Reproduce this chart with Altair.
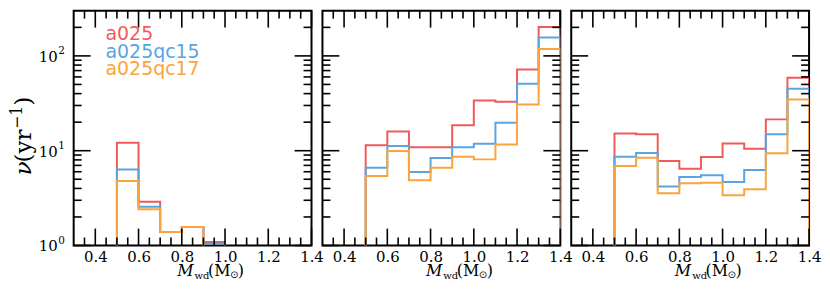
import altair as alt
import pandas as pd

# ---------------- data ----------------
edges = [0.5, 0.6, 0.7, 0.8, 0.9, 1.0, 1.1, 1.2, 1.3, 1.4]
series = ["a025", "a025qc15", "a025qc17"]
colors = ["#f25a5a", "#5aa5e0", "#fba43c"]

p1_a025 = [12.1, 2.9, 1.39, 1.57, 1.09, 0, 0, 0, 0]
p1_qc15 = [6.35, 2.57, 1.39, 1.57, 1.05, 0, 0, 0, 0]
p1_qc17 = [4.8, 2.41, 1.39, 1.57, 0, 0, 0, 0, 0]

p2_a025 = [11.4, 15.9, 10.9, 10.9, 18.6, 33.8, 32.8, 71.8, 202]
p2_qc15 = [6.6, 11.2, 5.97, 8.4, 10.9, 11.85, 19.7, 50.7, 156]
p2_qc17 = [5.41, 9.93, 4.87, 6.6, 8.65, 8.1, 11.65, 30.7, 118.5]

p3_a025 = [15.2, 14.9, 7.8, 6.47, 8.58, 11.9, 10.5, 21.4, 58.7]
p3_qc15 = [8.65, 9.46, 4.18, 5.29, 5.5, 4.68, 6.26, 14.9, 45]
p3_qc17 = [6.9, 8.44, 3.56, 4.53, 4.6, 3.39, 3.92, 9.38, 34.7]

panels = [
    [p1_a025, p1_qc15, p1_qc17],
    [p2_a025, p2_qc15, p2_qc17],
    [p3_a025, p3_qc15, p3_qc17],
]

x_major = [0.4, 0.6, 0.8, 1.0, 1.2, 1.4]
x_minor = [0.35, 0.45, 0.5, 0.55, 0.65, 0.7, 0.75, 0.85, 0.9, 0.95,
           1.05, 1.1, 1.15, 1.25, 1.3, 1.35]
y_major = [1, 10, 100]
y_minor = [2, 3, 4, 5, 6, 7, 8, 9, 20, 30, 40, 50, 60, 70, 80, 90, 200]
y_label_base = ["10", "10", "10"]
y_label_exp = ["0", "1", "2"]

# ---------------- layout ----------------
W, H = 239, 236
MAJ, MIN = 17, 8
FLOOR = 0.3  # below the log domain: zero-count bins drop off the bottom
SERIF = "DejaVu Serif"

xs = alt.Scale(domain=[0.3, 1.4], nice=False, zero=False)
ys = alt.Scale(type="log", domain=[1, 300], nice=False)

xaxis = alt.Axis(values=x_major, format=".1f", ticks=False, domain=False,
                 grid=False, title=None, labelPadding=4, labelFlush=False,
                 labelOverlap=False, labelBound=False, labelFont=SERIF,
                 labelFontSize=15, labelColor="black")
yaxis = alt.Axis(values=y_major, labels=False, ticks=False, domain=False,
                 grid=False, title=None)


def step_frame(vals):
    rows = [{"x": edges[0], "y": FLOOR, "o": 0}]
    k = 1
    for i, v in enumerate(vals):
        vv = v if v > 0 else FLOOR
        rows.append({"x": edges[i], "y": vv, "o": k}); k += 1
        rows.append({"x": edges[i + 1], "y": vv, "o": k}); k += 1
    rows.append({"x": edges[-1], "y": FLOOR, "o": k})
    return pd.DataFrame(rows)


one = alt.Data(values=[{}])


def text(t, x, y, size, font=SERIF, style="normal", color="black",
         angle=0):
    return alt.Chart(one).mark_text(
        align="left", baseline="alphabetic", font=font, fontSize=size,
        fontStyle=style, color=color, angle=angle
    ).encode(x=alt.value(x), y=alt.value(y), text=alt.value(t))


def panel(idx):
    show_y = idx == 0
    layers = []
    for vals, col in zip(panels[idx], colors):
        layers.append(
            alt.Chart(step_frame(vals)).mark_line(
                clip=True, strokeWidth=2, color=col, strokeJoin="miter",
                strokeCap="butt"
            ).encode(
                x=alt.X("x:Q", scale=xs, axis=xaxis),
                y=alt.Y("y:Q", scale=ys, axis=yaxis),
                order="o:Q",
            )
        )
    # inward ticks on all four sides
    dxM = pd.DataFrame({"x": x_major})
    dxm = pd.DataFrame({"x": x_minor})
    dyM = pd.DataFrame({"y": y_major})
    dym = pd.DataFrame({"y": y_minor})
    for d, L in ((dxM, MAJ), (dxm, MIN)):
        for y0, y1 in ((H, H - L), (0, L)):
            layers.append(
                alt.Chart(d).mark_rule(color="black", strokeWidth=1.6).encode(
                    x=alt.X("x:Q", scale=xs, axis=xaxis),
                    y=alt.value(y0), y2=alt.value(y1))
            )
    for d, L in ((dyM, MAJ), (dym, MIN)):
        for x0, x1 in ((0, L), (W, W - L)):
            layers.append(
                alt.Chart(d).mark_rule(color="black", strokeWidth=1.6).encode(
                    y=alt.Y("y:Q", scale=ys, axis=yaxis),
                    x=alt.value(x0), x2=alt.value(x1))
            )
    # x title: M_wd(M_sun)
    layers += [
        text("M", 104, 266.5, 16, style="italic"),
        text("wd", 121.5, 269.5, 10),
        text("(M", 135, 266.5, 16),
        text("⊙", 157, 269, 10, font="DejaVu Sans"),
        text(")", 165, 266.5, 16),
    ]
    if show_y:
        # y tick labels 10^n
        dl = pd.DataFrame({"y": y_major, "b": y_label_base, "e": y_label_exp})
        layers.append(
            alt.Chart(dl).mark_text(align="right", baseline="middle",
                                    font=SERIF, fontSize=15, color="black",
                                    dy=1).encode(
                y=alt.Y("y:Q", scale=ys, axis=yaxis), x=alt.value(-16),
                text="b:N")
        )
        layers.append(
            alt.Chart(dl).mark_text(align="left", baseline="middle",
                                    font=SERIF, fontSize=10.5, color="black",
                                    dx=0.5, dy=-5).encode(
                y=alt.Y("y:Q", scale=ys, axis=yaxis), x=alt.value(-16),
                text="e:N")
        )
        # y title: nu (yr^-1), rotated
        layers += [
            text("ν", -43, 165.5, 23, style="italic", angle=270),
            text("(yr", -43, 152.5, 23, angle=270),
            text("−1", -51.5, 118.9, 16, angle=270),
            text(")", -43, 95.3, 23, angle=270),
        ]
        for j, (s, c) in enumerate(zip(series, colors)):
            layers.append(text(s, 32, [29.5, 47.5, 64.5][j], 19,
                               font="DejaVu Sans", color=c))
    return alt.layer(*layers).properties(width=W, height=H)


chart = alt.hconcat(panel(0), panel(1), panel(2), spacing=11,
                    bounds="flush").properties(
    padding={"left": 0, "top": 0, "right": 0, "bottom": 0}
).configure_view(stroke="black", strokeWidth=2)

chart.save("out.html", embed_options={"renderer": "svg", "actions": False})
